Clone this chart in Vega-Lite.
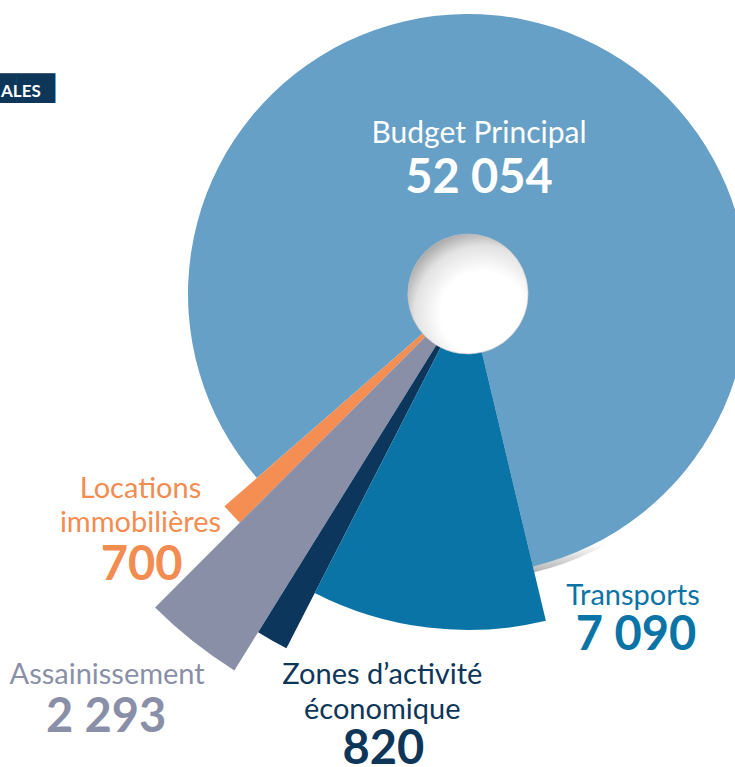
{
  "$schema": "https://vega.github.io/schema/vega-lite/v6.json",
  "width": 534,
  "height": 560,
  "autosize": {"type": "none"},
  "padding": {"left": 201, "top": 14, "right": 0, "bottom": 193},
  "background": "white",
  "config": {
    "view": {"stroke": null},
    "locale": {"number": {"decimal": ",", "thousands": " ", "grouping": [3], "currency": ["", " €"]}},
    "text": {"font": "Lato"}
  },
  "datasets": {
    "budgets": [
      {"budget": "Transports", "nom": "Transports", "valeur": 7090},
      {"budget": "Zones d’activité économique", "nom": "Zones d’activité\néconomique", "valeur": 820},
      {"budget": "Assainissement", "nom": "Assainissement", "valeur": 2293},
      {"budget": "Locations immobilières", "nom": "Locations\nimmobilières", "valeur": 700},
      {"budget": "Budget Principal", "nom": "Budget Principal", "valeur": 52054}
    ]
  },
  "layer": [
    {
      "data": {"name": "budgets"},
      "transform": [{"stack": "valeur", "groupby": [], "as": ["debut", "fin"]}, {"filter": {"field": "budget", "equal": "Budget Principal"}}],
      "mark": {"type": "arc", "outerRadius": 286, "innerRadius": 0,
        "fill": {"gradient": "linear", "x1": 0, "y1": 0, "x2": 0, "y2": 1, "stops": [{"offset": 0, "color": "#ffffff"}, {"offset": 0.95, "color": "#ffffff"}, {"offset": 1, "color": "#b4b4b4"}]}},
      "encoding": {
        "theta": {"field": "debut", "type": "quantitative", "stack": null, "scale": {"domain": [0, 62957], "range": [2.9077, 9.1909]}},
        "theta2": {"field": "fin"}
      }
    },
    {
      "data": {"name": "budgets"},
      "transform": [{"stack": "valeur", "groupby": [], "as": ["debut", "fin"]}, {"filter": {"field": "budget", "equal": "Budget Principal"}}],
      "mark": {"type": "arc", "outerRadius": 280, "innerRadius": 0, "fill": "#67a0c6"},
      "encoding": {
        "theta": {"field": "debut", "type": "quantitative", "stack": null, "scale": {"domain": [0, 62957], "range": [2.9077, 9.1909]}},
        "theta2": {"field": "fin"}
      }
    },
    {
      "data": {"name": "budgets"},
      "transform": [{"stack": "valeur", "groupby": [], "as": ["debut", "fin"]}, {"filter": {"field": "budget", "equal": "Locations immobilières"}}],
      "mark": {"type": "arc", "outerRadius": 323, "innerRadius": 0, "fill": "#f58e52"},
      "encoding": {
        "theta": {"field": "debut", "type": "quantitative", "stack": null, "scale": {"domain": [0, 62957], "range": [2.9077, 9.1909]}},
        "theta2": {"field": "fin"}
      }
    },
    {
      "data": {"name": "budgets"},
      "transform": [{"stack": "valeur", "groupby": [], "as": ["debut", "fin"]}, {"filter": {"field": "budget", "equal": "Assainissement"}}],
      "mark": {"type": "arc", "outerRadius": 443, "innerRadius": 0, "fill": "#8a8fa8"},
      "encoding": {
        "theta": {"field": "debut", "type": "quantitative", "stack": null, "scale": {"domain": [0, 62957], "range": [2.9077, 9.1909]}},
        "theta2": {"field": "fin"}
      }
    },
    {
      "data": {"name": "budgets"},
      "transform": [{"stack": "valeur", "groupby": [], "as": ["debut", "fin"]}, {"filter": {"field": "budget", "equal": "Zones d’activité économique"}}],
      "mark": {"type": "arc", "outerRadius": 398, "innerRadius": 0, "fill": "#0c365b"},
      "encoding": {
        "theta": {"field": "debut", "type": "quantitative", "stack": null, "scale": {"domain": [0, 62957], "range": [2.9077, 9.1909]}},
        "theta2": {"field": "fin"}
      }
    },
    {
      "data": {"name": "budgets"},
      "transform": [{"stack": "valeur", "groupby": [], "as": ["debut", "fin"]}, {"filter": {"field": "budget", "equal": "Transports"}}],
      "mark": {"type": "arc", "outerRadius": 336, "innerRadius": 0, "fill": "#0b74a6"},
      "encoding": {
        "theta": {"field": "debut", "type": "quantitative", "stack": null, "scale": {"domain": [0, 62957], "range": [2.9077, 9.1909]}},
        "theta2": {"field": "fin"}
      }
    },
    {
      "data": {"name": "budgets"},
      "transform": [{"stack": "valeur", "groupby": [], "as": ["debut", "fin"]}, {"aggregate": [{"op": "min", "field": "debut", "as": "d0"}, {"op": "max", "field": "fin", "as": "d1"}]}],
      "mark": {"type": "arc", "outerRadius": 60, "innerRadius": 0, "stroke": "#c4c4c4", "strokeWidth": 0.6,
        "fill": {"gradient": "radial", "x1": 0.62, "y1": 0.66, "r1": 0, "x2": 0.62, "y2": 0.66, "r2": 0.78, "stops": [{"offset": 0, "color": "#ffffff"}, {"offset": 0.45, "color": "#ffffff"}, {"offset": 0.72, "color": "#e2e2e2"}, {"offset": 1, "color": "#858585"}]}},
      "encoding": {
        "theta": {"field": "d0", "type": "quantitative", "stack": null, "scale": {"domain": [0, 62957], "range": [2.9077, 9.1909]}},
        "theta2": {"field": "d1"}
      }
    },
    {
      "data": {"name": "budgets"},
      "transform": [{"filter": {"field": "budget", "equal": "Budget Principal"}}],
      "mark": {"type": "text", "align": "center", "baseline": "alphabetic", "dx": 11, "dy": -151, "fontSize": 30, "fill": "#ffffff"},
      "encoding": {"text": {"field": "nom", "type": "nominal"}}
    },
    {
      "data": {"name": "budgets"},
      "transform": [{"filter": {"field": "budget", "equal": "Budget Principal"}}],
      "mark": {"type": "text", "align": "center", "baseline": "alphabetic", "dx": 11, "dy": -101, "fontSize": 47, "fontWeight": "bold", "fill": "#ffffff"},
      "encoding": {"text": {"field": "valeur", "type": "quantitative", "format": ",d"}}
    },
    {
      "data": {"name": "budgets"},
      "transform": [{"stack": "valeur", "groupby": [], "as": ["debut", "fin"]}, {"filter": {"field": "budget", "equal": "Transports"}}],
      "mark": {"type": "text", "radius": 345, "align": "center", "baseline": "alphabetic", "dx": 85, "dy": -25, "fontSize": 29, "fill": "#0b74a6"},
      "encoding": {
        "theta": {"field": "debut", "type": "quantitative", "stack": null, "scale": {"domain": [0, 62957], "range": [2.9077, 9.1909]}},
        "text": {"field": "nom", "type": "nominal"}
      }
    },
    {
      "data": {"name": "budgets"},
      "transform": [{"stack": "valeur", "groupby": [], "as": ["debut", "fin"]}, {"filter": {"field": "budget", "equal": "Transports"}}],
      "mark": {"type": "text", "radius": 345, "align": "center", "baseline": "alphabetic", "dx": 88, "dy": 20, "fontSize": 47, "fontWeight": "bold", "fill": "#0b74a6"},
      "encoding": {
        "theta": {"field": "debut", "type": "quantitative", "stack": null, "scale": {"domain": [0, 62957], "range": [2.9077, 9.1909]}},
        "text": {"field": "valeur", "type": "quantitative", "format": ",d"}
      }
    },
    {
      "data": {"name": "budgets"},
      "transform": [{"stack": "valeur", "groupby": [], "as": ["debut", "fin"]}, {"filter": {"field": "budget", "equal": "Zones d’activité économique"}}],
      "mark": {"type": "text", "radius": 440, "align": "center", "baseline": "alphabetic", "lineBreak": "\n", "lineHeight": 35, "dx": 115, "dy": -2, "fontSize": 29, "fill": "#0d3659"},
      "encoding": {
        "theta": {"field": "debut", "type": "quantitative", "stack": null, "scale": {"domain": [0, 62957], "range": [2.9077, 9.1909]}},
        "text": {"field": "nom", "type": "nominal"}
      }
    },
    {
      "data": {"name": "budgets"},
      "transform": [{"stack": "valeur", "groupby": [], "as": ["debut", "fin"]}, {"filter": {"field": "budget", "equal": "Zones d’activité économique"}}],
      "mark": {"type": "text", "radius": 440, "align": "center", "baseline": "alphabetic", "dx": 116, "dy": 78, "fontSize": 47, "fontWeight": "bold", "fill": "#0d3659"},
      "encoding": {
        "theta": {"field": "debut", "type": "quantitative", "stack": null, "scale": {"domain": [0, 62957], "range": [2.9077, 9.1909]}},
        "text": {"field": "valeur", "type": "quantitative", "format": ",d"}
      }
    },
    {
      "data": {"name": "budgets"},
      "transform": [{"stack": "valeur", "groupby": [], "as": ["debut", "fin"]}, {"filter": {"field": "budget", "equal": "Assainissement"}}],
      "mark": {"type": "text", "radius": 470, "align": "center", "baseline": "alphabetic", "dx": -113, "dy": -9, "fontSize": 29, "fill": "#8a8fa8"},
      "encoding": {
        "theta": {"field": "debut", "type": "quantitative", "stack": null, "scale": {"domain": [0, 62957], "range": [2.9077, 9.1909]}},
        "text": {"field": "nom", "type": "nominal"}
      }
    },
    {
      "data": {"name": "budgets"},
      "transform": [{"stack": "valeur", "groupby": [], "as": ["debut", "fin"]}, {"filter": {"field": "budget", "equal": "Assainissement"}}],
      "mark": {"type": "text", "radius": 470, "align": "center", "baseline": "alphabetic", "dx": -114, "dy": 39, "fontSize": 47, "fontWeight": "bold", "fill": "#8a8fa8"},
      "encoding": {
        "theta": {"field": "debut", "type": "quantitative", "stack": null, "scale": {"domain": [0, 62957], "range": [2.9077, 9.1909]}},
        "text": {"field": "valeur", "type": "quantitative", "format": ",d"}
      }
    },
    {
      "data": {"name": "budgets"},
      "transform": [{"stack": "valeur", "groupby": [], "as": ["debut", "fin"]}, {"filter": {"field": "budget", "equal": "Locations immobilières"}}],
      "mark": {"type": "text", "radius": 360, "align": "center", "baseline": "alphabetic", "lineBreak": "\n", "lineHeight": 34, "dx": -56, "dy": -32, "fontSize": 29, "fill": "#f28c50"},
      "encoding": {
        "theta": {"field": "fin", "type": "quantitative", "stack": null, "scale": {"domain": [0, 62957], "range": [2.9077, 9.1909]}},
        "text": {"field": "nom", "type": "nominal"}
      }
    },
    {
      "data": {"name": "budgets"},
      "transform": [{"stack": "valeur", "groupby": [], "as": ["debut", "fin"]}, {"filter": {"field": "budget", "equal": "Locations immobilières"}}],
      "mark": {"type": "text", "radius": 360, "align": "center", "baseline": "alphabetic", "dx": -55, "dy": 50, "fontSize": 47, "fontWeight": "bold", "fill": "#f28c50"},
      "encoding": {
        "theta": {"field": "fin", "type": "quantitative", "stack": null, "scale": {"domain": [0, 62957], "range": [2.9077, 9.1909]}},
        "text": {"field": "valeur", "type": "quantitative", "format": ",d"}
      }
    },
    {
      "data": {"values": [{"bloc": "████", "titre": "ALES"}]},
      "mark": {"type": "text", "align": "right", "baseline": "alphabetic", "font": "DejaVu Sans", "fontSize": 25, "dx": -413, "dy": -197, "fill": "#0d3659"},
      "encoding": {"text": {"field": "bloc", "type": "nominal"}}
    },
    {
      "data": {"values": [{"bloc": "████", "titre": "ALES"}]},
      "mark": {"type": "text", "align": "left", "baseline": "alphabetic", "fontSize": 17, "fontWeight": "bold", "dx": -467, "dy": -197, "fill": "#ffffff"},
      "encoding": {"text": {"field": "titre", "type": "nominal"}}
    }
  ]
}
